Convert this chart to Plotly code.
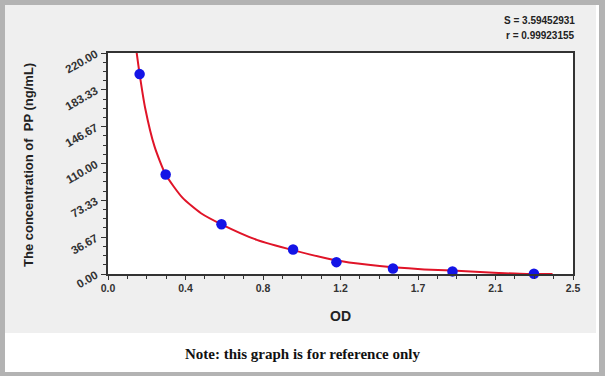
import plotly.graph_objects as go

# ---- data ----
od_points = [0.170, 0.310, 0.610, 0.995, 1.228, 1.532, 1.852, 2.290]
conc_points = [199.0, 99.0, 49.5, 24.4, 11.8, 5.4, 2.6, 0.3]

curve_od = [0.150, 0.170, 0.200, 0.250, 0.310, 0.400, 0.500, 0.610, 0.800,
            1.000, 1.230, 1.400, 1.530, 1.700, 1.850, 2.000, 2.100, 2.250, 2.390]
curve_conc = [226.0, 199.0, 165.0, 127.0, 99.0, 76.0, 60.5, 49.5, 34.0,
              23.5, 13.5, 9.2, 6.8, 4.6, 3.4, 2.0, 1.1, 0.0, 0.0]

x_tickvals = [0, 2.5/6, 5/6, 1.25, 10/6, 12.5/6, 2.5]
x_ticktext = ["0.0", "0.4", "0.8", "1.2", "1.7", "2.1", "2.5"]
y_tickvals = [0, 220/6, 440/6, 110, 880/6, 1100/6, 220]
y_ticktext = ["0.00", "36.67", "73.33", "110.00", "146.67", "183.33", "220.00"]

W, H = 605, 376
L, R, T, B = 108, 32, 53, 102
PW, PH = W - L - R, H - T - B

def px(xp):
    return (xp - L) / PW

def py(yp):
    return (H - B - yp) / PH

fig = go.Figure()
fig.add_trace(go.Scatter(x=curve_od, y=curve_conc, mode="lines",
                         line=dict(color="#e01428", width=2, shape="spline", smoothing=0.6),
                         hoverinfo="skip", showlegend=False))
fig.add_trace(go.Scatter(x=od_points, y=conc_points, mode="markers",
                         marker=dict(color="#1414e6", size=10.5, line=dict(width=0)),
                         cliponaxis=False, showlegend=False))

xtickfont = dict(family="Liberation Sans, Arial", size=10.5, color="#333333", weight="bold")
ytickfont = dict(family="Liberation Sans, Arial", size=11.5, color="#333333", weight="bold")

fig.update_xaxes(range=[0, 2.5], tickvals=x_tickvals, ticktext=x_ticktext,
                 ticks="outside", ticklen=4, tickwidth=1, tickcolor="#333",
                 minor=dict(dtick=2.5/24, tick0=0, ticks="outside", ticklen=3, tickcolor="#333", showgrid=False),
                 showgrid=False, zeroline=False, showline=True, linecolor="#333", linewidth=1.5,
                 mirror=True, tickfont=xtickfont, ticklabelstandoff=0)
fig.update_yaxes(range=[0, 220], tickvals=y_tickvals, ticktext=y_ticktext,
                 ticks="outside", ticklen=5, tickwidth=1, tickcolor="#333", tickangle=-30,
                 minor=dict(dtick=220/24, tick0=0, ticks="outside", ticklen=3, tickcolor="#333", showgrid=False),
                 showgrid=False, zeroline=False, showline=True, linecolor="#333", linewidth=1.5,
                 mirror=True, tickfont=ytickfont, ticklabelstandoff=3)

shapes = [
    dict(type="rect", xref="paper", yref="paper", x0=px(0), x1=px(W), y0=py(H), y1=py(0),
         fillcolor="#b3b3b3", line=dict(width=0), layer="below"),
    dict(type="rect", xref="paper", yref="paper", x0=px(5), x1=px(599), y0=py(372), y1=py(5),
         fillcolor="#ffffff", line=dict(width=0), layer="below"),
    dict(type="rect", xref="paper", yref="paper", x0=px(5), x1=px(596), y0=py(333), y1=py(5),
         fillcolor="#efefef", line=dict(width=0), layer="below"),
    dict(type="rect", xref="paper", yref="paper", x0=0, x1=1, y0=0, y1=1,
         fillcolor="#ffffff", line=dict(width=0), layer="below"),
]

annotations = [
    dict(text="S = 3.59452931", xref="paper", yref="paper", x=px(577), y=py(20),
         xanchor="right", yanchor="middle", showarrow=False,
         font=dict(family="Liberation Sans, Arial", size=10, color="#222", weight="bold")),
    dict(text="r = 0.99923155", xref="paper", yref="paper", x=px(577), y=py(35),
         xanchor="right", yanchor="middle", showarrow=False,
         font=dict(family="Liberation Sans, Arial", size=10, color="#222", weight="bold")),
    dict(text="The concentration of  PP (ng/mL)", xref="paper", yref="paper", x=px(28), y=py(165),
         xanchor="center", yanchor="middle", textangle=-90, showarrow=False,
         font=dict(family="Liberation Sans, Arial", size=13, color="#222", weight="bold")),
    dict(text="OD", xref="paper", yref="paper", x=px(340), y=py(316),
         xanchor="center", yanchor="middle", showarrow=False,
         font=dict(family="Liberation Sans, Arial", size=14, color="#222", weight="bold")),
    dict(text="Note: this graph is for reference only", xref="paper", yref="paper", x=px(302), y=py(354),
         xanchor="center", yanchor="middle", showarrow=False,
         font=dict(family="Liberation Serif, Times New Roman", size=15, color="#111", weight="bold")),
]

fig.update_layout(width=W, height=H, margin=dict(l=L, r=R, t=T, b=B, pad=0),
                  paper_bgcolor="#ffffff", plot_bgcolor="rgba(0,0,0,0)",
                  shapes=shapes, annotations=annotations, showlegend=False)

fig.write_html("out.html", config={"displayModeBar": False},
               post_script="document.body.style.margin='0';document.body.style.overflow='hidden';")
